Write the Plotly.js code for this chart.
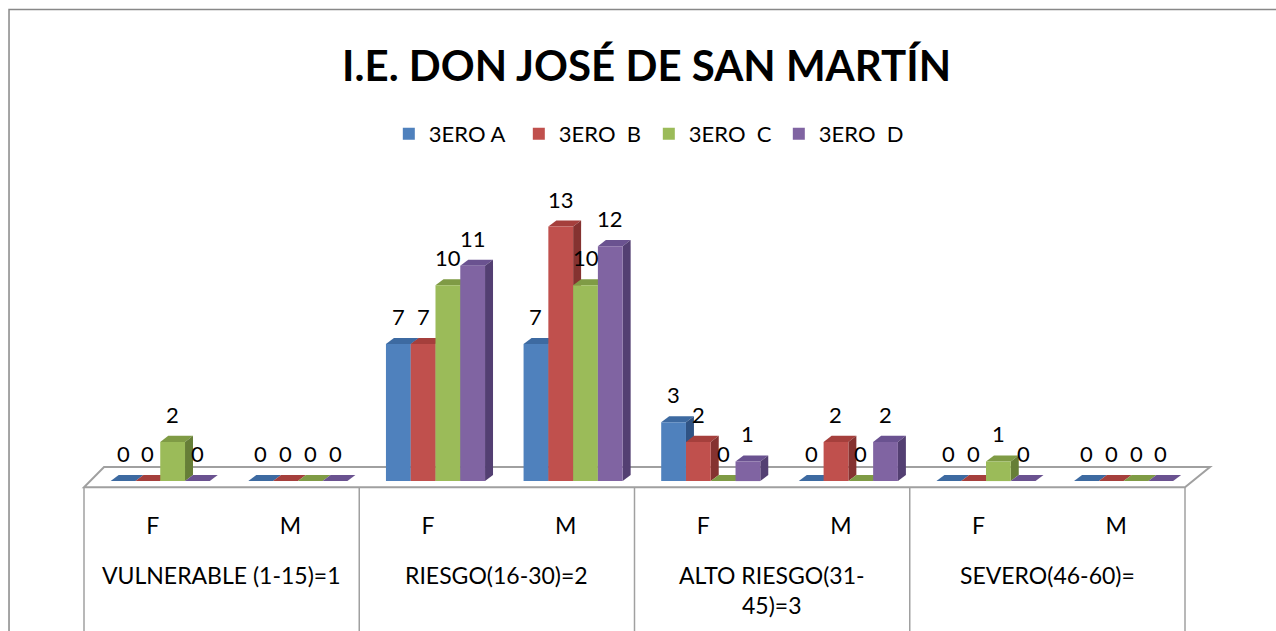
<!DOCTYPE html>
<html>
<head>
<meta charset="utf-8">
<script src="https://cdn.plot.ly/plotly-3.0.1.min.js"></script>
<style>html,body{margin:0;padding:0;background:#fff;}#chart{width:1276px;height:631px;}</style>
</head>
<body>
<div id="chart"></div>
<script>
const groupLabels = ["VULNERABLE (1-15)=1","RIESGO(16-30)=2","ALTO RIESGO(31-<br>45)=3","SEVERO(46-60)="];
const groups = ["VULNERABLE (1-15)=1","VULNERABLE (1-15)=1","RIESGO(16-30)=2","RIESGO(16-30)=2","ALTO RIESGO(31-<br>45)=3","ALTO RIESGO(31-<br>45)=3","SEVERO(46-60)=","SEVERO(46-60)="];
const sexes = ["F","M","F","M","F","M","F","M"];
const seriesNames = ["3ERO A","3ERO\u00a0\u00a0B","3ERO\u00a0\u00a0C","3ERO\u00a0\u00a0D"];
const s3A = [0,0,7,7,3,0,0,0];
const s3B = [0,0,7,13,2,2,0,0];
const s3C = [2,0,10,10,0,0,1,0];
const s3D = [0,0,11,12,1,2,0,0];
const colors = ["#4F81BD","#C0504D","#9BBB59","#8064A2"];
const topColors = ["#3D6AA1","#A53F3C","#7F9B45","#6A5290"];
const sideColors = ["#2F5384","#853230","#667E37","#533F72"];

const FONT = "Lato, 'Open Sans', sans-serif";
const keys = groups.map((g,i)=>g+" | "+sexes[i]);
const values = [s3A,s3B,s3C,s3D];
const barW = 0.18;
const offsets = [-0.306,-0.126,0.054,0.234];
// 3D depth in axis units (~8px right, ~6px up)
const DX = 0.058, DY = 0.31;

const traces = values.map((v,i)=>({
  type:"bar",
  name: seriesNames[i],
  x:keys,
  y:v,
  width:barW,
  offset:offsets[i],
  marker:{color:colors[i]},
  hoverinfo:"y"
}));

const faceShapes = [];
const labelAnn = [];
values.forEach((v,s)=>{
  v.forEach((val,i)=>{
    const x0 = i+offsets[s], x1 = x0+barW;
    faceShapes.push({type:"path",xref:"x",yref:"y",layer:"below",
      path:`M ${x0},${val} L ${x1},${val} L ${x1+DX},${val+DY} L ${x0+DX},${val+DY} Z`,
      fillcolor:topColors[s],line:{width:0}});
    if(val>0){
      faceShapes.push({type:"path",xref:"x",yref:"y",layer:"below",
        path:`M ${x1},${val} L ${x1+DX},${val+DY} L ${x1+DX},${DY} L ${x1},0 Z`,
        fillcolor:sideColors[s],line:{width:0}});
    }
    labelAnn.push({text:String(val),xref:"x",yref:"y",x:(x0+x1)/2,y:val+DY,yanchor:"bottom",xanchor:"center",
      yshift:6,showarrow:false,font:{size:22,family:FONT,color:"#000"}});
  });
});

const dividers = [0,0.25,0.5,0.75,1].map(xp=>({
  type:"line",xref:"paper",yref:"paper",x0:xp,x1:xp,y0:-0.01,y1:-0.6,
  line:{color:"#A0A0A0",width:1.5}
}));

const groupAnn = groupLabels.map((g,k)=>({
  text:g, xref:"x", yref:"paper", x:2*k+0.5, y:-0.266, yanchor:"top", xanchor:"center",
  showarrow:false, font:{size:23,family:FONT,color:"#000"}
}));

const layout = {
  width:1276,height:631,
  paper_bgcolor:"#fff",plot_bgcolor:"rgba(0,0,0,0)",
  margin:{l:84,r:91,t:207,b:146},
  font:{family:FONT,size:22,color:"#000"},
  title:{text:"<b>I.E. DON JOSÉ DE SAN MARTÍN</b>",font:{size:42,family:FONT,color:"#000"},x:0.5067,xanchor:"center",y:0.895,yanchor:"middle"},
  barmode:"overlay",
  showlegend:true,
  legend:{orientation:"h",x:0.513,xanchor:"center",y:0.7876,yref:"container",yanchor:"middle",font:{size:22,family:FONT},itemwidth:30,entrywidth:85,entrywidthmode:"pixels",traceorder:"normal"},
  xaxis:{type:"category",tickvals:keys,ticktext:sexes,showgrid:false,showline:false,zeroline:false,
    ticks:"outside",ticklen:20,tickcolor:"rgba(0,0,0,0)",tickfont:{size:23,family:FONT},range:[-0.5,7.5]},
  yaxis:{range:[-0.2,14],visible:false,showgrid:false,zeroline:false},
  annotations:groupAnn.concat(labelAnn),
  shapes:[
    {type:"rect",xref:"paper",yref:"paper",x0:-0.0681,x1:1.2,y0:1.71,y1:-0.7,line:{color:"#888",width:1.5},layer:"below"},
    {type:"path",xref:"paper",yref:"paper",path:"M 0,-0.008 L 1,-0.008 L 1.0227,0.065 L 0.0182,0.065 Z",line:{color:"#A0A0A0",width:2},fillcolor:"rgba(0,0,0,0)",layer:"below"}
  ].concat(dividers).concat(faceShapes)
};
Plotly.newPlot("chart",traces,layout,{displayModeBar:false,staticPlot:true});
</script>
</body>
</html>
